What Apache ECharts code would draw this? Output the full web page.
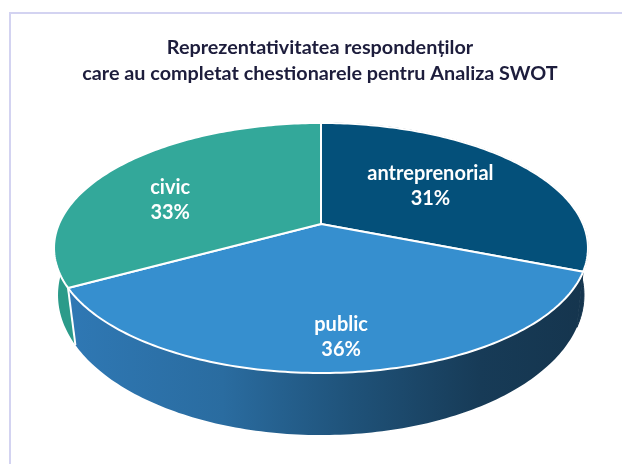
<!DOCTYPE html>
<html>
<head>
<meta charset="utf-8">
<style>
  html, body { margin: 0; padding: 0; background: #fff; }
  #chart { width: 622px; height: 464px; }
</style>
<script src="https://cdn.jsdelivr.net/npm/echarts@6/dist/echarts.min.js"></script>
</head>
<body>
<div id="chart"></div>
<script>
var categories = ['antreprenorial', 'public', 'civic']
var shares = [31, 36, 33]
var titleLines = ['Reprezentativitatea respondenților', 'care au completat chestionarele pentru Analiza SWOT']

var topColors = ['#04507a', '#368fcf', '#33a89a']
var labelRadius = [0.56, 0.78, 0.68]
var labelNudge = [[-5, -2], [5, 3], [-7, 15]]
var total = shares.reduce(function (a, b) { return a + b }, 0)

// the disk is tilted with perspective, so the centre sits above the ellipse middle
var topDisk = { cx: 321, cy: 224, a: 262, b: 120.4, p: 0.192 }
var bottomDisk = { cx: 321, cy: 274, a: 260, b: 136.9, p: 0.15 }

function project (disk, deg, r) {
  var t = deg * Math.PI / 180
  var u = Math.sin(t) * r
  var v = -Math.cos(t) * r
  var w = 1 - disk.p * v
  return [disk.cx + disk.a * u / w, disk.cy + disk.b * v / w]
}

function arc (disk, from, to) {
  var pts = []
  var n = Math.max(2, Math.ceil(Math.abs(to - from)))
  for (var i = 0; i <= n; i++) {
    pts.push(project(disk, from + (to - from) * i / n, 1))
  }
  return pts
}

function sliceRange (index) {
  var before = 0
  for (var i = 0; i < index; i++) before += shares[i]
  return [before / total * 360, (before + shares[index]) / total * 360]
}

function wallFill (index) {
  if (index === 1) {
    return new echarts.graphic.LinearGradient(0, 0, 1, 0, [
      { offset: 0, color: '#2f78b4' },
      { offset: 0.3, color: '#2a6ca0' },
      { offset: 0.55, color: '#1f5279' },
      { offset: 0.8, color: '#173b57' },
      { offset: 1, color: '#15354e' }
    ])
  }
  return index === 2 ? '#2b9b8a' : '#15354e'
}

function renderWall (params, api) {
  var i = params.dataIndex
  var range = sliceRange(i)
  var upper = arc(topDisk, range[0], range[1])
  var lower = arc(bottomDisk, range[1], range[0])
  var children = [{
    type: 'polygon',
    shape: { points: upper.concat(lower) },
    style: { fill: wallFill(i), stroke: i === 0 ? '#15354e' : null, lineWidth: 1 },
    silent: true
  }]
  // only the front left seam shows as a white line, the right one falls on the silhouette
  if (i === 2) {
    var a = project(topDisk, range[0], 1)
    var b = project(bottomDisk, range[0], 1)
    children.push({
      type: 'line',
      shape: { x1: a[0], y1: a[1], x2: b[0], y2: b[1] },
      style: { stroke: '#ffffff', lineWidth: 2 },
      z2: 3,
      silent: true
    })
  }
  return { type: 'group', children: children }
}

function renderTop (params, api) {
  var i = params.dataIndex
  var range = sliceRange(i)
  var mid = (range[0] + range[1]) / 2
  var pos = project(topDisk, mid, labelRadius[i])
  return {
    type: 'group',
    children: [
      {
        type: 'polygon',
        shape: { points: [[topDisk.cx, topDisk.cy]].concat(arc(topDisk, range[0], range[1])) },
        style: { fill: topColors[i], stroke: '#ffffff', lineWidth: 2, lineJoin: 'round' },
        silent: true
      },
      {
        type: 'text',
        x: pos[0] + labelNudge[i][0],
        y: pos[1] + labelNudge[i][1],
        style: {
          text: categories[i] + '\n' + api.value(0) + '%',
          fill: '#ffffff',
          font: 'bold 20px Lato, sans-serif',
          lineHeight: 25,
          align: 'center',
          verticalAlign: 'middle'
        },
        z2: 5,
        silent: true
      }
    ]
  }
}

var chart = echarts.init(document.getElementById('chart'))
chart.setOption({
  animation: false,
  backgroundColor: '#ffffff',
  graphic: [
    {
      type: 'rect',
      shape: { x: 10, y: 13, width: 700, height: 600 },
      style: { fill: '#ffffff', stroke: '#d3d3f1', lineWidth: 2 },
      silent: true,
      z: -1
    }
  ],
  title: {
    text: titleLines.join('\n'),
    left: 315,
    top: 30,
    textAlign: 'center',
    textStyle: {
      fontFamily: 'Lato, sans-serif',
      fontWeight: 'bold',
      fontSize: 19.8,
      lineHeight: 26,
      color: '#1d1d3c'
    }
  },
  series: [
    { type: 'custom', coordinateSystem: 'none', renderItem: renderWall, data: shares, z: 2, silent: true },
    { type: 'custom', coordinateSystem: 'none', renderItem: renderTop, data: shares, z: 3, silent: true }
  ]
})
</script>
</body>
</html>
